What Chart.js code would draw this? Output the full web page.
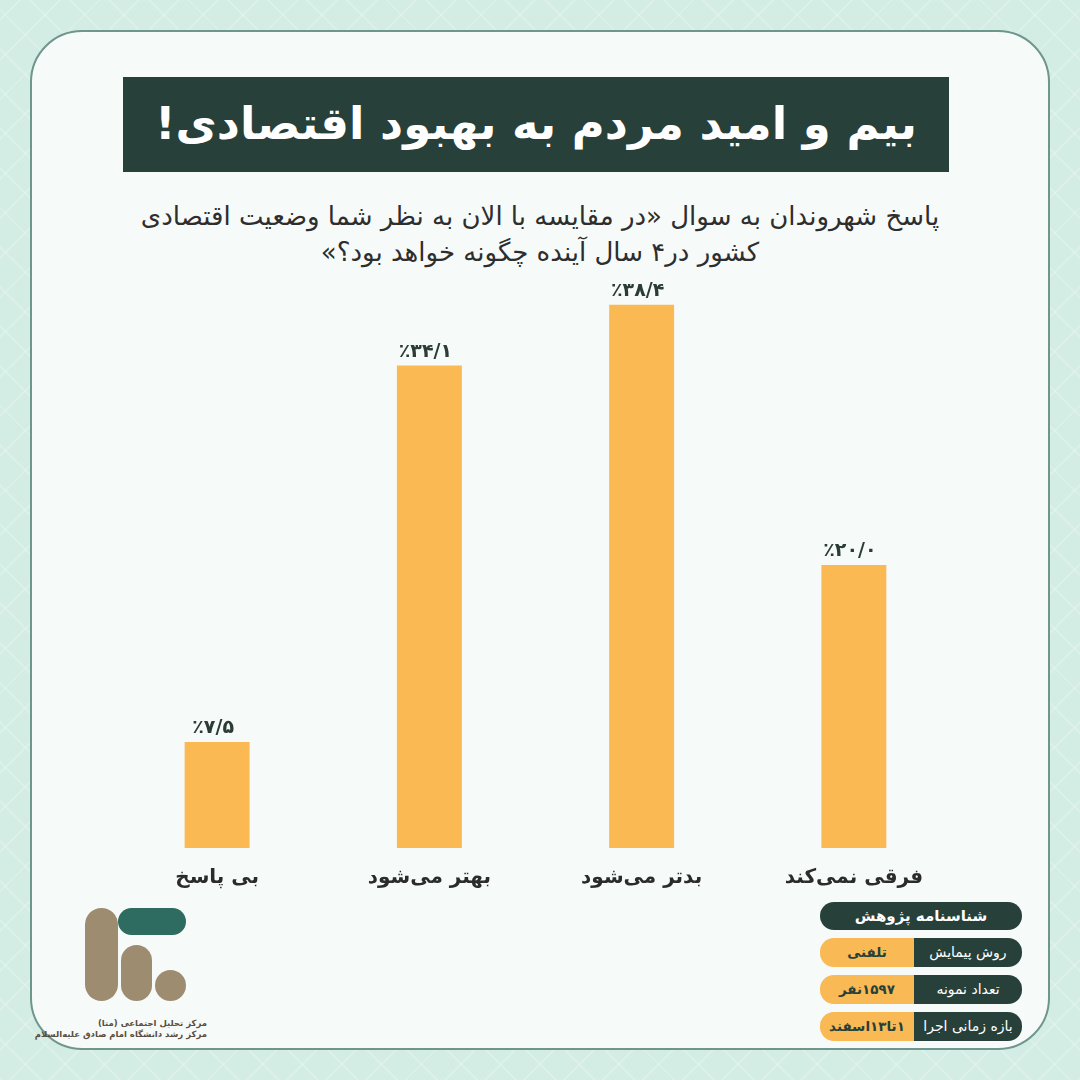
<!DOCTYPE html>
<html lang="fa">
<head>
<meta charset="utf-8">
<script src="https://cdn.jsdelivr.net/npm/chart.js@4/dist/chart.umd.min.js"></script>
<style>
  html, body { margin:0; padding:0; }
  body { width:1080px; height:1080px; position:relative; overflow:hidden;
    background-color:#d4ede4;
    background-image:
      repeating-linear-gradient(45deg, rgba(255,255,255,0.18) 0 2px, transparent 2px 28px),
      repeating-linear-gradient(-45deg, rgba(255,255,255,0.18) 0 2px, transparent 2px 28px);
    font-family:"DejaVu Sans", sans-serif; }
  #card { position:absolute; left:30px; top:30px; width:1020px; height:1020px;
    background:#f6fbfa; border:2px solid #6f968d; border-radius:52px; box-sizing:border-box; }
  #title { position:absolute; left:123px; top:77px; width:826px; height:95px; background:#27403a;
    color:#fff; font-weight:bold; font-size:45px; direction:rtl; text-align:center; line-height:93px; }
  #subtitle { position:absolute; left:100px; top:198px; width:880px; direction:rtl; text-align:center;
    font-size:26px; line-height:36px; color:#2e2e2e; }
  #chart { position:absolute; left:0; top:0; width:1080px; height:1080px; }
  .pill { position:absolute; border-radius:14px; }
  #info { position:absolute; left:820px; top:902px; width:202px; direction:rtl; }
  .ihead { height:28px; background:#27403a; color:#fff; border-radius:14px; font-weight:bold;
    font-size:15px; text-align:center; line-height:28px; margin-bottom:8px; }
  .irow { height:29px; border-radius:14px; overflow:hidden; display:flex; margin-bottom:8px; }
  .ik { background:#27403a; color:#fff; width:108px; font-size:14px; line-height:29px; text-align:center; white-space:nowrap; }
  .iv { background:#f9b955; color:#27403a; flex:1; font-size:13.5px; line-height:29px; text-align:center; white-space:nowrap; font-weight:bold; }
  #logotext { position:absolute; left:52px; top:1018px; width:155px; direction:rtl; text-align:right;
    font-size:8.5px; line-height:11px; color:#5a4e3e; font-weight:bold; white-space:nowrap; }
</style>
</head>
<body>
<div id="card"></div>
<div id="title">بیم و امید مردم به بهبود اقتصادی!</div>
<div id="subtitle">پاسخ شهروندان به سوال «در مقایسه با الان به نظر شما وضعیت اقتصادی<br>کشور در۴ سال آینده چگونه خواهد بود؟»</div>

<!-- logo -->
<div class="pill" style="left:85px;top:908px;width:33px;height:93px;border-radius:17px;background:#9e8c70;"></div>
<div class="pill" style="left:121px;top:945px;width:31px;height:56px;border-radius:16px;background:#9e8c70;"></div>
<div class="pill" style="left:155px;top:970px;width:31px;height:31px;border-radius:16px;background:#9e8c70;"></div>
<div class="pill" style="left:118px;top:908px;width:68px;height:27px;border-radius:14px;background:#2e6b60;"></div>
<div id="logotext">مرکز تحلیل اجتماعی (متا)<br>مرکز رشد دانشگاه امام صادق علیه‌السلام</div>

<div id="info">
  <div class="ihead">شناسنامه پژوهش</div>
  <div class="irow"><div class="ik">روش پیمایش</div><div class="iv">تلفنی</div></div>
  <div class="irow"><div class="ik">تعداد نمونه</div><div class="iv">۱۵۹۷نفر</div></div>
  <div class="irow"><div class="ik">بازه زمانی اجرا</div><div class="iv">۱تا۱۳اسفند</div></div>
</div>

<canvas id="chart" width="1080" height="1080"></canvas>
<script>
const categories = ['بی پاسخ', 'بهتر می‌شود', 'بدتر می‌شود', 'فرقی نمی‌کند'];
const values = [7.5, 34.1, 38.4, 20.0];
const valueLabels = ['٪۷/۵', '٪۳۴/۱', '٪۳۸/۴', '٪۲۰/۰'];
const yMax = 40;

const barColor = '#fbb954';
const textColor = '#2b2b2b';

const valueLabelPlugin = {
  id: 'valueLabels',
  afterDatasetsDraw(chart) {
    const ctx = chart.ctx;
    const meta = chart.getDatasetMeta(0);
    ctx.save();
    ctx.font = 'bold 19px "DejaVu Sans"';
    ctx.fillStyle = '#2b3b36';
    ctx.textAlign = 'center';
    ctx.textBaseline = 'bottom';
    ctx.direction = 'ltr';
    meta.data.forEach((bar, i) => {
      ctx.fillText(valueLabels[i], bar.x - 4, bar.y - 4);
    });
    ctx.restore();
  }
};

new Chart(document.getElementById('chart'), {
  type: 'bar',
  data: {
    labels: categories,
    datasets: [{
      data: values,
      backgroundColor: barColor,
      borderWidth: 0,
      categoryPercentage: 1.0,
      barPercentage: 0.306
    }]
  },
  options: {
    responsive: false,
    animation: false,
    devicePixelRatio: 1,
    layout: { padding: { left: 111, right: 120, top: 282, bottom: 172 } },
    plugins: { legend: { display: false }, tooltip: { enabled: false } },
    scales: {
      x: {
        grid: { display: false },
        border: { display: false },
        ticks: { color: textColor, font: { family: 'DejaVu Sans', size: 20, weight: 'bold' }, padding: 10 },
        afterFit(scale) { scale.height = 60; }
      },
      y: {
        display: false,
        min: 0,
        max: yMax
      }
    }
  },
  plugins: [valueLabelPlugin]
});
</script>
</body>
</html>
